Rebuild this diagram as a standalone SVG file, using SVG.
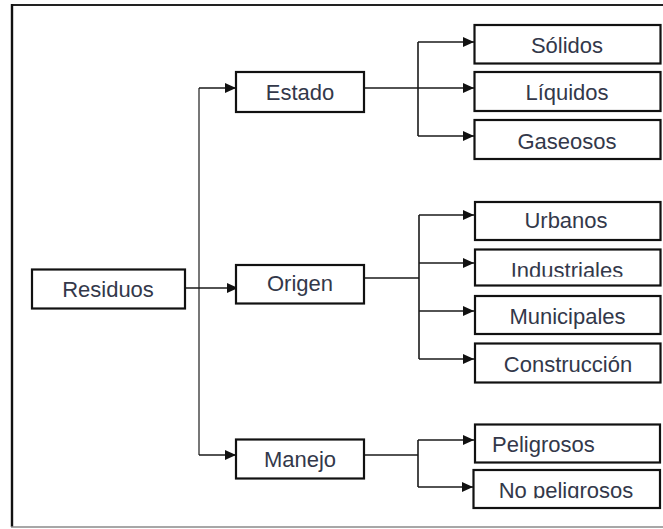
<svg xmlns="http://www.w3.org/2000/svg" width="663" height="529" viewBox="0 0 663 529">
<style>
  .box { fill: #ffffff; stroke: #111111; stroke-width: 2.2; }
  .lbl { font-family: "Liberation Sans", Arial, sans-serif; font-size: 22px; fill: #33384a; text-anchor: middle; }
  .con { fill: none; stroke: #1a1a1a; stroke-width: 1.6; }
  .trunk { fill: none; stroke: #555555; stroke-width: 1.6; }
</style>
<defs>
  <marker id="arr" markerUnits="userSpaceOnUse" markerWidth="12" markerHeight="11" refX="11" refY="5" orient="auto">
    <path d="M0,0 L11,5 L0,10 z" fill="#111111"/>
  </marker>
  <clipPath id="clipInd"><rect x="475" y="249" width="186" height="27.8"/></clipPath>
  <clipPath id="clipNoP"><rect x="473" y="470" width="188" height="28.3"/></clipPath>
</defs>
<rect width="663" height="529" fill="#ffffff"/>
<g id="frame">
  <line x1="11" y1="5" x2="663" y2="5" stroke="#222222" stroke-width="2"/>
  <line x1="12" y1="4" x2="12" y2="527" stroke="#111111" stroke-width="2.4"/>
  <line x1="11" y1="527" x2="663" y2="527" stroke="#8a8a8a" stroke-width="1.5"/>
</g>
<g id="connectors">
  <path class="trunk" d="M199,455 V88"/>
  <path class="con" d="M199,88 H236" marker-end="url(#arr)"/>
  <path class="con" d="M199,455 H236" marker-end="url(#arr)"/>
  <path class="con" d="M185,288 H238" marker-end="url(#arr)"/>
  <path class="con" d="M364,88 H474" marker-end="url(#arr)"/>
  <path class="con" d="M418,42 V136"/>
  <path class="con" d="M418,42 H474" marker-end="url(#arr)"/>
  <path class="con" d="M418,136 H474" marker-end="url(#arr)"/>
  <path class="con" d="M364,278 H419"/>
  <path class="con" d="M419,215 V359"/>
  <path class="con" d="M419,215 H474" marker-end="url(#arr)"/>
  <path class="con" d="M419,263 H474" marker-end="url(#arr)"/>
  <path class="con" d="M419,311 H474" marker-end="url(#arr)"/>
  <path class="con" d="M419,359 H474" marker-end="url(#arr)"/>
  <path class="con" d="M364,455 H418"/>
  <path class="con" d="M418,440 V487"/>
  <path class="con" d="M418,440 H474" marker-end="url(#arr)"/>
  <path class="con" d="M418,487 H473" marker-end="url(#arr)"/>
</g>
<g id="residuos"><rect class="box" x="32" y="269.5" width="153" height="39"/><text class="lbl" x="108" y="297">Residuos</text></g>
<g id="estado"><rect class="box" x="236" y="72" width="128" height="40"/><text class="lbl" x="300" y="100">Estado</text></g>
<g id="origen"><rect class="box" x="236" y="265" width="128" height="38.5"/><text class="lbl" x="300" y="291">Origen</text></g>
<g id="manejo"><rect class="box" x="236" y="439.5" width="128" height="39"/><text class="lbl" x="300" y="467">Manejo</text></g>
<g id="solidos"><rect class="box" x="474.5" y="25" width="186" height="38.5"/><text class="lbl" x="567" y="52.5">Sólidos</text></g>
<g id="liquidos"><rect class="box" x="474.5" y="72" width="186" height="39"/><text class="lbl" x="567" y="100">Líquidos</text></g>
<g id="gaseosos"><rect class="box" x="474.5" y="120" width="186" height="39"/><text class="lbl" x="567" y="148.5">Gaseosos</text></g>
<g id="urbanos"><rect class="box" x="475" y="202" width="185.5" height="38"/><text class="lbl" x="566" y="227.5">Urbanos</text></g>
<g id="industriales"><rect class="box" x="475" y="249.5" width="185.5" height="36"/><text class="lbl" x="567" y="277.5" clip-path="url(#clipInd)">Industriales</text></g>
<g id="municipales"><rect class="box" x="475" y="296" width="185.5" height="38"/><text class="lbl" x="567.5" y="323.5">Municipales</text></g>
<g id="construccion"><rect class="box" x="475" y="343.5" width="185.5" height="39"/><text class="lbl" x="568" y="372">Construcción</text></g>
<g id="peligrosos"><rect class="box" x="475" y="424.5" width="185" height="38"/><text class="lbl" x="492" y="452" style="text-anchor:start">Peligrosos</text></g>
<g id="nopeligrosos"><rect class="box" x="473.5" y="470" width="186.5" height="38"/><text class="lbl" x="566" y="498" clip-path="url(#clipNoP)">No peligrosos</text></g>
</svg>
